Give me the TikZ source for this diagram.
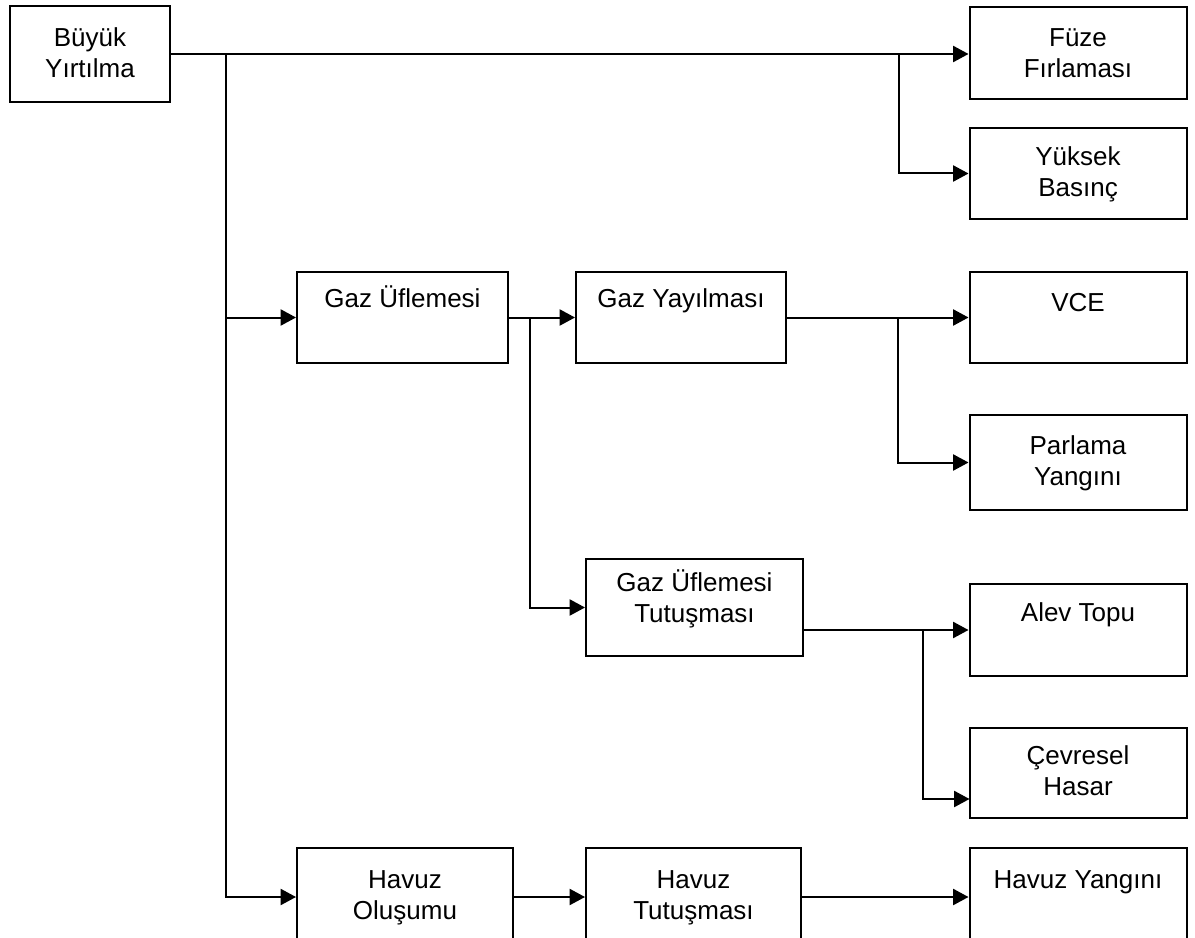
\documentclass[tikz,border=0pt]{standalone}
\usepackage{fontspec}
\setmainfont{Liberation Sans}
\usetikzlibrary{arrows.meta}
% fixed first-line height so every label hangs from the same cap line
\newcommand\capstrut{\rule{0pt}{19pt}}
\begin{document}
\begin{tikzpicture}[x=0.75pt,y=-0.75pt,
  box/.style={draw, line width=1.5pt, inner sep=0pt, minimum width=162.75pt, minimum height=69pt},
  lbl/.style={anchor=north, align=center, inner sep=0pt, font=\fontsize{19.5}{23.25}\selectfont},
  flow/.style={line width=1.5pt, -{Triangle[length=11.5pt,width=12pt]}}]
\useasboundingbox (0,0) rectangle (1195,938);
\clip (0,0) rectangle (1195,938);

% boxes
\node[box, minimum width=120pt, minimum height=72pt] (A) at (90,54) {};
\node[box] (F) at (1078,53) {};
\node[box, minimum height=68.25pt] (Y) at (1078,173.5) {};
\node[box, minimum width=158.25pt, minimum height=68.25pt] (GU) at (402.5,317.5) {};
\node[box, minimum width=157.5pt, minimum height=68.25pt] (GY) at (681,317.5) {};
\node[box, minimum height=68.25pt] (VCE) at (1078,317.5) {};
\node[box, minimum height=71.25pt] (P) at (1078,462.5) {};
\node[box, minimum height=72.75pt] (GT) at (694.5,607.5) {};
\node[box] (AT) at (1078,630) {};
\node[box, minimum height=67.5pt] (C) at (1078,773) {};
\node[box, minimum width=162pt, minimum height=73.5pt] (HO) at (405,897) {};
\node[box, minimum width=161.25pt, minimum height=73.5pt] (HT) at (693.5,897) {};
\node[box, minimum height=73.5pt] (HY) at (1078,897) {};

% labels
\node[lbl] (tA) at (90,21) {\capstrut Büyük\\Yırtılma};
\node[lbl] (tF) at (1078,21) {\capstrut Füze\\Fırlaması};
\node[lbl] (tY) at (1078,140) {\capstrut Yüksek\\Basınç};
\node[lbl] (tGU) at (402.5,282) {\capstrut Gaz Üflemesi};
\node[lbl] (tGY) at (681,282) {\capstrut Gaz Yayılması};
\node[lbl] (tVCE) at (1078,286) {\capstrut VCE};
\node[lbl] (tP) at (1078,429) {\capstrut Parlama\\Yangını};
\node[lbl] (tGT) at (694.5,566) {\capstrut Gaz Üflemesi\\Tutuşması};
\node[lbl] (tAT) at (1078,596) {\capstrut Alev Topu};
\node[lbl] (tC) at (1078,739) {\capstrut Çevresel\\Hasar};
\node[lbl] (tHO) at (405,863) {\capstrut Havuz\\Oluşumu};
\node[lbl] (tHT) at (693.5,863) {\capstrut Havuz\\Tutuşması};
\node[lbl] (tHY) at (1078,863) {\capstrut Havuz Yangını};

% junctions
\coordinate (jA) at (226,54);
\coordinate (jF) at (899,54);
\coordinate (jG) at (530,317.5);
\coordinate (jV) at (898,317.5);
\coordinate (jT) at (923,630);
\coordinate (Cin) at (969.5,799);

% connectors
\draw[flow] (A.east) -- (A.east -| F.west);
\draw[flow] (jF) |- (Y.west);
\draw[flow] (jA) |- (GU.west);
\draw[flow] (jA) |- (HO.west);
\draw[flow] (GU.east) -- (GY.west);
\draw[flow] (jG) |- (GT.west);
\draw[flow] (GY.east) -- (VCE.west);
\draw[flow] (jV) |- (P.west);
\draw[flow] (GT.east |- AT.west) -- (AT.west);
\draw[flow] (jT) |- (Cin);
\draw[flow] (HO.east) -- (HT.west);
\draw[flow] (HT.east) -- (HY.west);
\end{tikzpicture}
\end{document}
